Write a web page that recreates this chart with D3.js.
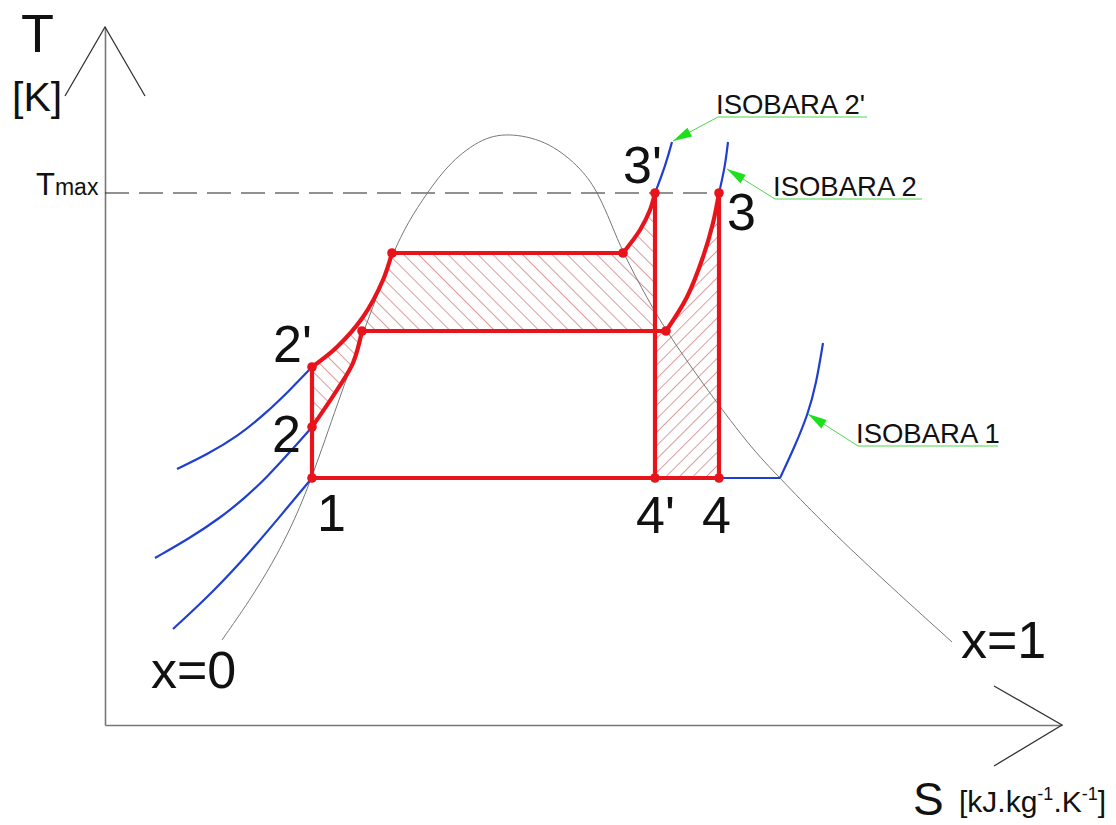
<!DOCTYPE html>
<html>
<head>
<meta charset="utf-8">
<script src="https://cdn.jsdelivr.net/npm/d3@7/dist/d3.min.js"></script>
<style>
  html, body { margin: 0; padding: 0; background: #fff; }
  svg { display: block; }
  text { font-family: "Liberation Sans", Arial, sans-serif; fill: #111; }
</style>
</head>
<body>
<svg id="chart" width="1116" height="825"></svg>
<script>
// T-s diagram: saturation dome, isobars and two cycles (1-2-3-4 and 1-2'-3'-4')

// saturation dome (x=0 on the left, x=1 on the right) as [s, T]
const domeCurve = [
  [1.17, 0.85], [1.45, 1.25], [1.67, 1.61], [1.87, 1.99], [2.07, 2.47],
  [2.33, 3.23], [2.58, 3.92], [2.78, 4.45], [2.88, 4.72], [3.03, 5.03],
  [3.22, 5.32], [3.45, 5.63], [3.78, 5.88], [4.07, 5.92], [4.45, 5.83],
  [4.78, 5.55], [4.93, 5.32], [5.06, 5.02], [5.18, 4.72], [5.43, 4.25],
  [5.62, 3.93], [5.95, 3.45], [6.45, 2.78], [6.75, 2.47], [7.15, 2.05],
  [7.75, 1.48], [8.47, 0.83]
];

// cycle state points [s, T]
const P1 = [2.07, 2.47];
const P2 = [2.07, 2.98];
const P2p = [2.07, 3.58];
const P3p = [5.50, 5.32];
const P3 = [6.14, 5.32];
const P4p = [5.50, 2.47];
const P4 = [6.14, 2.47];

// heating paths (liquid heating, evaporation, superheating)
const heatHighLiquid = [[2.07, 3.58], [2.32, 3.78], [2.58, 4.08], [2.78, 4.45], [2.87, 4.72]];
const heatHighBoil = [[2.87, 4.72], [5.18, 4.72]];
const heatHighVapour = [[5.18, 4.72], [5.35, 4.95], [5.45, 5.15], [5.50, 5.32]];

const heatLowLiquid = [[2.07, 2.98], [2.32, 3.35], [2.48, 3.62], [2.57, 3.94]];
const heatLowBoil = [[2.57, 3.94], [5.61, 3.94]];
const heatLowVapour = [[5.61, 3.94], [5.82, 4.28], [5.98, 4.68], [6.08, 5.02], [6.14, 5.32]];

// isobars outside the cycle
const isobar2pLiquid = [[2.07, 3.58], [1.85, 3.35], [1.60, 3.11], [1.33, 2.89], [1.03, 2.71], [0.72, 2.56]];
const isobar2pVapour = [[5.50, 5.32], [5.60, 5.58], [5.67, 5.83]];
const isobar2Liquid = [[2.07, 2.98], [1.85, 2.73], [1.63, 2.49], [1.40, 2.27], [1.15, 2.07], [0.85, 1.87], [0.50, 1.67]];
const isobar2Vapour = [[6.14, 5.32], [6.20, 5.58], [6.23, 5.83]];
const isobar1Liquid = [[2.07, 2.47], [1.77, 2.11], [1.45, 1.73], [1.10, 1.35], [0.68, 0.96]];
const isobar1Boil = [[6.14, 2.47], [6.75, 2.47]];
const isobar1Vapour = [[6.75, 2.47], [6.90, 2.79], [7.03, 3.11], [7.11, 3.40], [7.18, 3.82]];

const T_MAX = 5.32;

// leader callouts: arrow tip, elbow, end of underline
const calloutNames = ["ISOBARA 2'", "ISOBARA 2", "ISOBARA 1"];
const calloutTips = [[5.68, 5.84], [6.22, 5.56], [7.03, 3.11]];
const calloutElbows = [[6.13, 6.08], [6.70, 5.26], [7.53, 2.79]];
const calloutEnds = [[7.62, 6.08], [8.17, 5.26], [8.93, 2.79]];

const S_MAX = 9.57, T_TOP = 6.98;

const svg = d3.select("#chart");
const x = d3.scaleLinear().domain([0, S_MAX]).range([105, 1062]);
const y = d3.scaleLinear().domain([0, T_TOP]).range([725, 27]);

const smooth = d3.line().x(d => x(d[0])).y(d => y(d[1])).curve(d3.curveCatmullRom.alpha(0.5));
const soft = d3.line().x(d => x(d[0])).y(d => y(d[1])).curve(d3.curveBasis);
const straight = d3.line().x(d => x(d[0])).y(d => y(d[1]));

// hatch patterns
const defs = svg.append("defs");
function hatch(id, angle, gap) {
  const p = defs.append("pattern")
    .attr("id", id)
    .attr("patternUnits", "userSpaceOnUse")
    .attr("width", gap).attr("height", gap)
    .attr("patternTransform", `rotate(${angle})`);
  p.append("line")
    .attr("x1", 0.5).attr("y1", 0).attr("x2", 0.5).attr("y2", gap)
    .attr("stroke", "#dc9c9c").attr("stroke-width", 1);
}
hatch("hatchBack", -45, 10.5);
hatch("hatchFwd", 45, 9.5);

// closed outline built from straight and curved pieces
function closedPath(pieces) {
  let d = "";
  pieces.forEach((pc, i) => {
    const seg = (pc.curve ? smooth : straight)(pc.pts);
    d += i === 0 ? seg : seg.replace(/^M/, "L");
  });
  return d + "Z";
}

// extra area of the higher-pressure cycle
svg.append("path")
  .attr("d", closedPath([
    { pts: heatHighLiquid, curve: true },
    { pts: heatHighBoil },
    { pts: heatHighVapour, curve: true },
    { pts: [P3p, [P3p[0], heatLowBoil[0][1]], heatLowBoil[1], heatLowBoil[0]] },
    { pts: heatLowLiquid.slice().reverse(), curve: true },
    { pts: [P2, P2p] }
  ]))
  .attr("fill", "url(#hatchBack)");

// extra area of the lower-pressure cycle
svg.append("path")
  .attr("d", closedPath([
    { pts: [P4p, [P4p[0], heatLowVapour[0][1]]] },
    { pts: heatLowVapour, curve: true },
    { pts: [P3, P4] }
  ]))
  .attr("fill", "url(#hatchFwd)");

// axes
const axisG = svg.append("g");
axisG.append("g")
  .attr("transform", `translate(${x(0)},0)`)
  .call(d3.axisLeft(y).tickValues([]).tickSizeOuter(0))
  .call(g => g.select(".domain").attr("stroke", "#777").attr("stroke-width", 1.6));
axisG.append("g")
  .attr("transform", `translate(0,${y(0)})`)
  .call(d3.axisBottom(x).tickValues([]).tickSizeOuter(0))
  .call(g => g.select(".domain").attr("stroke", "#777").attr("stroke-width", 1.6));

// open chevron arrow heads
const chev = axisG.append("g").attr("stroke", "#333").attr("stroke-width", 1.3).attr("fill", "none");
const yTip = [x(0), y(T_TOP)];
chev.append("polyline").attr("points", [[yTip[0] - 40, yTip[1] + 69], yTip, [yTip[0] + 40, yTip[1] + 69]].join(" "));
const xTip = [x(S_MAX), y(0)];
chev.append("polyline").attr("points", [[xTip[0] - 68, xTip[1] - 39], xTip, [xTip[0] - 68, xTip[1] + 41]].join(" "));

// T max dashed guide
svg.append("path")
  .attr("d", straight([[0, T_MAX], [P3[0], T_MAX]]))
  .attr("stroke", "#222").attr("stroke-width", 1.1)
  .attr("stroke-dasharray", "24,10").attr("fill", "none");

// saturation dome
svg.append("path")
  .attr("d", soft(domeCurve))
  .attr("stroke", "#777").attr("stroke-width", 1).attr("fill", "none");

// isobars
const blue = svg.append("g").attr("stroke", "#1f3fd0").attr("stroke-width", 2.2).attr("fill", "none");
[isobar2pLiquid, isobar2pVapour, isobar2Liquid, isobar2Vapour, isobar1Liquid, isobar1Vapour]
  .forEach(pts => blue.append("path").attr("d", soft(pts)));
blue.append("path").attr("d", straight(isobar1Boil));

// cycles
const red = svg.append("g").attr("stroke", "#e8141c").attr("stroke-width", 4.2)
  .attr("fill", "none").attr("stroke-linejoin", "round");
[heatHighLiquid, heatHighVapour, heatLowLiquid, heatLowVapour]
  .forEach(pts => red.append("path").attr("d", smooth(pts)));
[heatHighBoil, heatLowBoil, [P1, P2p], [P3p, P4p], [P3, P4], [P1, P4]]
  .forEach(pts => red.append("path").attr("d", straight(pts)));

const dots = [P1, P2, P2p, P3p, P3, P4p, P4,
  heatHighBoil[0], heatHighBoil[1], heatLowBoil[0], heatLowBoil[1]];
svg.append("g").selectAll("circle").data(dots).join("circle")
  .attr("cx", d => x(d[0])).attr("cy", d => y(d[1])).attr("r", 4.8)
  .attr("fill", "#e8141c");

// callouts
const green = svg.append("g");
calloutNames.forEach((name, i) => {
  const tip = calloutTips[i], elb = calloutElbows[i], end = calloutEnds[i];
  green.append("path")
    .attr("d", straight([tip, elb, end]))
    .attr("stroke", "#4fd64f").attr("stroke-width", 1).attr("fill", "none");
  const tx = x(tip[0]), ty = y(tip[1]);
  const ex = x(elb[0]), ey = y(elb[1]);
  const len = Math.hypot(ex - tx, ey - ty);
  const ux = (ex - tx) / len, uy = (ey - ty) / len;
  const L = 19, W = 5;
  const bx = tx + ux * L, by = ty + uy * L;
  green.append("polygon")
    .attr("points", [[tx, ty], [bx - uy * W, by + ux * W], [bx + uy * W, by - ux * W]].join(" "))
    .attr("fill", "#1de01d");
  green.append("text")
    .attr("x", ex - 2).attr("y", ey - 3)
    .attr("font-size", 27.5)
    .text(name);
});

// state labels
const labels = svg.append("g").attr("font-size", 52);
const pointLabels = [
  { t: "1", p: P1, dx: 5, dy: 53 },
  { t: "2", p: P2, dx: -40, dy: 25 },
  { t: "2'", p: P2p, dx: -39, dy: -5 },
  { t: "3'", p: P3p, dx: -32, dy: -10 },
  { t: "3", p: P3, dx: 8, dy: 37 },
  { t: "4'", p: P4p, dx: -19, dy: 55 },
  { t: "4", p: P4, dx: -17, dy: 55 }
];
pointLabels.forEach(l => labels.append("text")
  .attr("x", x(l.p[0]) + l.dx).attr("y", y(l.p[1]) + l.dy).text(l.t));

labels.append("text").attr("x", x(domeCurve[0][0]) - 71).attr("y", y(domeCurve[0][1]) + 48).text("x=0");
labels.append("text").attr("x", x(domeCurve[domeCurve.length - 1][0]) + 9).attr("y", y(domeCurve[domeCurve.length - 1][1]) + 16).text("x=1");

// axis titles
svg.append("text").attr("x", 21).attr("y", 52).attr("font-size", 54).text("T");
svg.append("text").attr("x", 12).attr("y", 111).attr("font-size", 41).text("[K]");

const tmax = svg.append("text").attr("x", 36).attr("y", y(T_MAX) + 2).attr("font-size", 31);
tmax.append("tspan").text("T");
tmax.append("tspan").attr("font-size", 23).text("max");

svg.append("text").attr("x", 913).attr("y", 815).attr("font-size", 46).text("S");
const unit = svg.append("text").attr("x", 959).attr("y", 812).attr("font-size", 30);
unit.append("tspan").text("[kJ.kg");
unit.append("tspan").attr("font-size", 18).attr("dy", -12).text("-1");
unit.append("tspan").attr("dy", 12).text(".K");
unit.append("tspan").attr("font-size", 18).attr("dy", -12).text("-1");
unit.append("tspan").attr("dy", 12).text("]");
</script>
</body>
</html>
